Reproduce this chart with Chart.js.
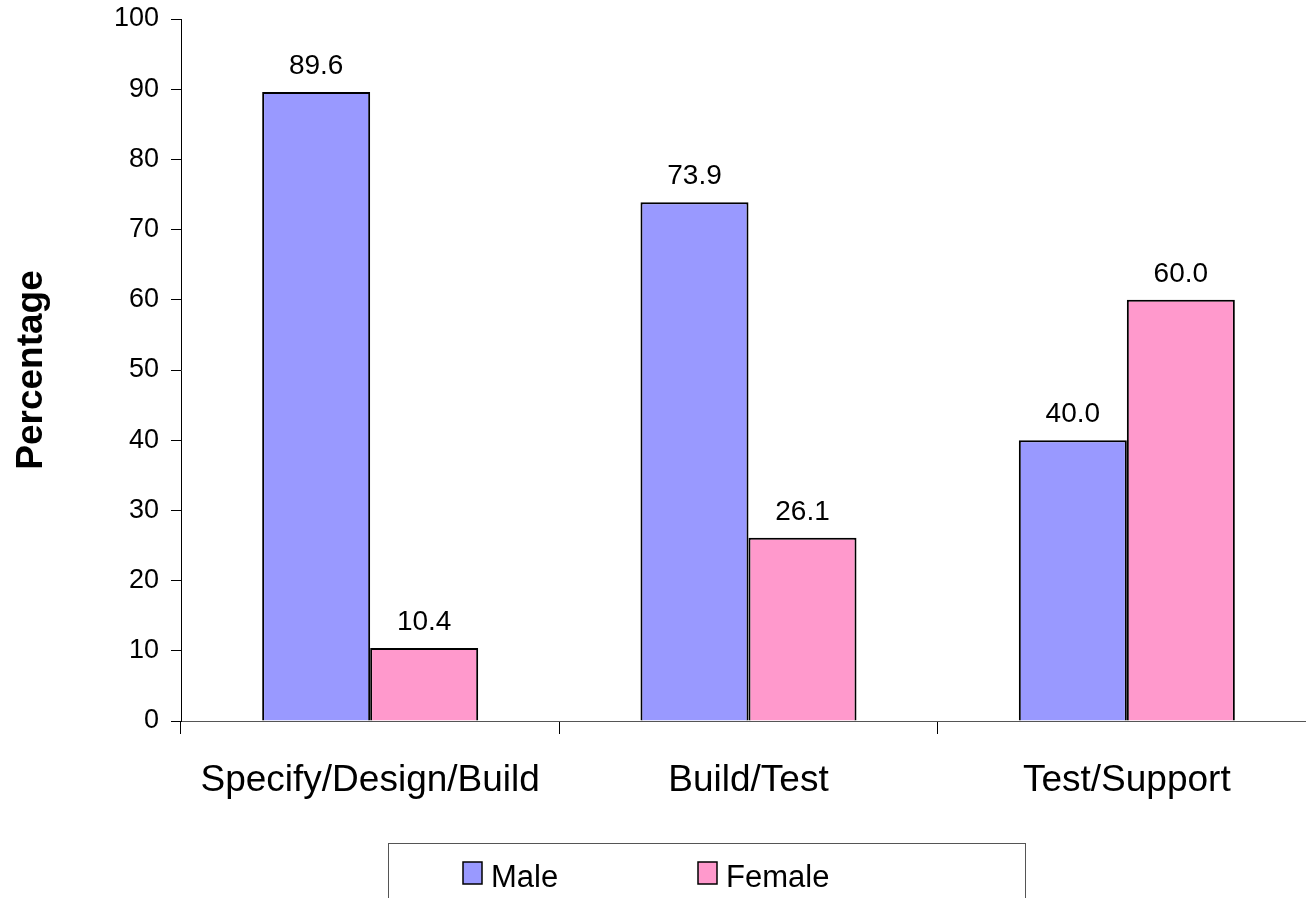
<!DOCTYPE html>
<html>
<head>
<meta charset="utf-8">
<script src="https://cdn.jsdelivr.net/npm/chart.js@4"></script>
<style>
    body { margin: 0; overflow: hidden; background: #fff; }
    #wrap { position: absolute; left: 0; top: 0; width: 1320px; height: 898px; }
</style>
</head>
<body>
<div id="wrap"><canvas id="roleChart"></canvas></div>
<script>
const categories = ["Specify/Design/Build", "Build/Test", "Test/Support"];
const maleValues = [89.6, 73.9, 40.0];
const femaleValues = [10.4, 26.1, 60.0];
const yTicks = [0, 10, 20, 30, 40, 50, 60, 70, 80, 90, 100];

const FONT = '"Liberation Sans", Arial, sans-serif';

// value labels above each bar
const barLabels = {
    id: "barLabels",
    afterDatasetsDraw(chart) {
        const ctx = chart.ctx;
        ctx.save();
        ctx.font = "28px " + FONT;
        ctx.fillStyle = "#000";
        ctx.textAlign = "center";
        ctx.textBaseline = "alphabetic";
        chart.data.datasets.forEach((ds, i) => {
            chart.getDatasetMeta(i).data.forEach((bar, j) => {
                ctx.fillText(ds.data[j].toFixed(1), bar.x, bar.y - 18);
            });
        });
        ctx.restore();
    },
};

// boxed legend at the bottom, like the original
const boxLegend = {
    id: "boxLegend",
    afterDraw(chart) {
        const ctx = chart.ctx;
        ctx.save();
        ctx.strokeStyle = "#555";
        ctx.lineWidth = 1;
        ctx.strokeRect(388.5, 843.5, 637, 80);
        const xs = [463, 698];
        ctx.font = "31px " + FONT;
        ctx.textBaseline = "alphabetic";
        chart.data.datasets.forEach((ds, i) => {
            ctx.fillStyle = ds.backgroundColor;
            ctx.fillRect(xs[i], 862, 19, 22);
            ctx.strokeStyle = "#000";
            ctx.lineWidth = 1.5;
            ctx.strokeRect(xs[i], 862, 19, 22);
            ctx.fillStyle = "#000";
            ctx.fillText(ds.label, xs[i] + 28, 887);
        });
        ctx.restore();
    },
};

new Chart(document.getElementById("roleChart"), {
    type: "bar",
    data: {
        labels: categories,
        datasets: [
            {
                label: "Male",
                data: maleValues,
                backgroundColor: "#9999FF",
                borderColor: "#000",
                borderWidth: 2,
                borderSkipped: "bottom",
                categoryPercentage: 0.571,
                barPercentage: 1.0,
            },
            {
                label: "Female",
                data: femaleValues,
                backgroundColor: "#FF99CC",
                borderColor: "#000",
                borderWidth: 2,
                borderSkipped: "bottom",
                categoryPercentage: 0.571,
                barPercentage: 1.0,
            },
        ],
    },
    options: {
        responsive: true,
        maintainAspectRatio: false,
        animation: false,
        layout: { padding: { top: 19, right: 4, left: 0, bottom: 0 } },
        plugins: {
            legend: { display: false },
            tooltip: { enabled: false },
        },
        scales: {
            x: {
                grid: { offset: true, drawOnChartArea: false, drawTicks: true, tickLength: 13, color: "#000" },
                border: { display: true, color: "#555" },
                ticks: { color: "#000", font: { family: FONT, size: 37 }, padding: 25 },
                afterFit: (scale) => { scale.height = 177; },
            },
            y: {
                min: 0,
                max: 100,
                afterBuildTicks: (scale) => { scale.ticks = yTicks.map((v) => ({ value: v })); },
                grid: { drawOnChartArea: false, drawTicks: true, tickLength: 10, color: "#000" },
                border: { display: true, color: "#000" },
                ticks: { color: "#000", font: { family: FONT, size: 27 }, padding: 12 },
                title: {
                    display: true,
                    text: "Percentage",
                    color: "#000",
                    font: { family: FONT, size: 37, weight: "bold" },
                    padding: { top: 10, bottom: 0 },
                },
                afterFit: (scale) => {
                    scale.width = 181;
                    scale.paddingTop = 0;
                    scale.paddingBottom = 0;
                },
            },
        },
    },
    plugins: [barLabels, boxLegend],
});
</script>
</body>
</html>
